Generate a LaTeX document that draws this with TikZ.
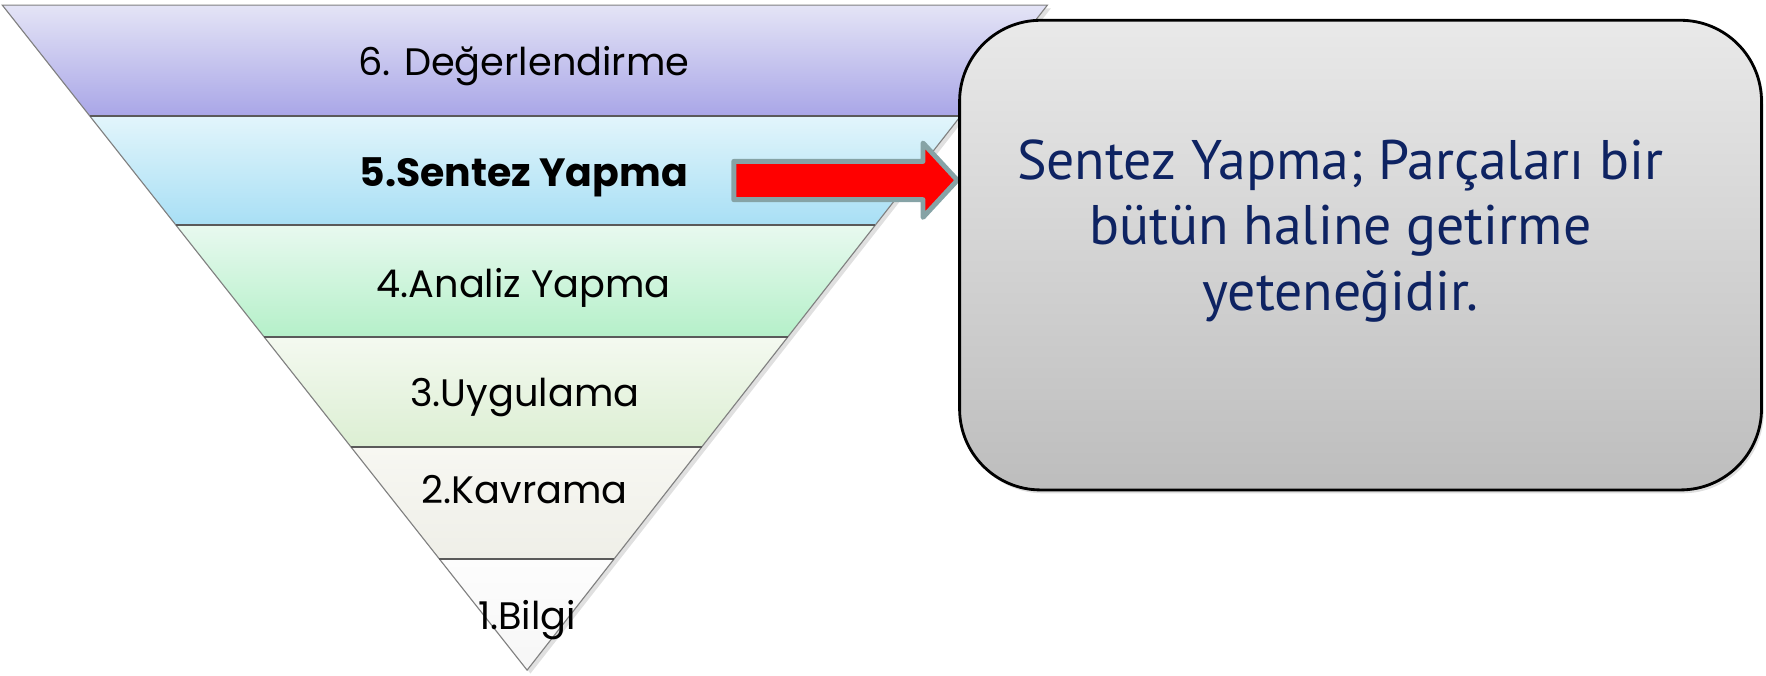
\documentclass[tikz,border=0pt]{standalone}
\usepackage{fontspec}
\setmainfont{PT Sans}
\newfontfamily\labelfont{Poppins}
\usetikzlibrary{calc,shadows}
\definecolor{bsixt}{HTML}{E4E4F6}
\definecolor{bsixb}{HTML}{A9A6E7}
\definecolor{bfivet}{HTML}{E2F5FB}
\definecolor{bfiveb}{HTML}{A8DFF5}
\definecolor{bfourt}{HTML}{E8F9EF}
\definecolor{bfourb}{HTML}{B5F0C9}
\definecolor{bthreet}{HTML}{F4F9F0}
\definecolor{bthreeb}{HTML}{DCEFD3}
\definecolor{btwot}{HTML}{F7F7F2}
\definecolor{btwob}{HTML}{EFEFE8}
\definecolor{bonet}{HTML}{FDFDFD}
\definecolor{boneb}{HTML}{F6F6F6}
\definecolor{sepline}{HTML}{5A5A5A}
\definecolor{edgeline}{HTML}{808080}
\definecolor{arrowedge}{HTML}{86A3A6}
\definecolor{boxtop}{HTML}{E9E9E9}
\definecolor{boxbot}{HTML}{BDBDBD}
\definecolor{navy}{RGB}{14,35,98}
\begin{document}
\begin{tikzpicture}[x=1pt,y=-1pt,
  lbl/.style={font=\labelfont\fontsize{34}{40}\selectfont, anchor=base, inner sep=0pt},
  lblbold/.style={font=\labelfont\bfseries\fontsize{35}{40}\selectfont, anchor=base, inner sep=0pt},
  sep/.style={draw=sepline, line width=1.6pt},
  edge/.style={draw=edgeline, line width=1pt},
  arrowst/.style={fill=red, draw=arrowedge, line width=4.4pt, line join=round},
  infobox/.style={draw=black, line width=2.5pt, rounded corners=72pt,
     top color=boxtop, bottom color=boxbot, minimum width=712pt, minimum height=417pt,
     drop shadow={opacity=0.25, shadow xshift=2pt, shadow yshift=-3pt}},
  boxtxt/.style={font=\fontsize{49.5}{58}\selectfont, text=navy, align=center, inner sep=0pt}
]
\useasboundingbox (0,0) rectangle (1568,600);
\coordinate (A) at (2,4.5);
\coordinate (B) at (930,4.5);
\coordinate (C) at (468,595);
\coordinate (L1) at ($(A)!0.1668!(C)$); \coordinate (R1) at ($(B)!0.1668!(C)$);
\coordinate (L2) at ($(A)!0.3311!(C)$); \coordinate (R2) at ($(B)!0.3311!(C)$);
\coordinate (L3) at ($(A)!0.4987!(C)$); \coordinate (R3) at ($(B)!0.4987!(C)$);
\coordinate (L4) at ($(A)!0.6647!(C)$); \coordinate (R4) at ($(B)!0.6647!(C)$);
\coordinate (L5) at ($(A)!0.8324!(C)$); \coordinate (R5) at ($(B)!0.8324!(C)$);
% shadow of triangle
\fill[black, opacity=0.12] ($(A)+(3,3)$) -- ($(B)+(3,3)$) -- ($(C)+(3,3)$) -- cycle;
% bands
\shade[top color=bsixt, bottom color=bsixb] (A) -- (B) -- (R1) -- (L1) -- cycle;
\shade[top color=bfivet, bottom color=bfiveb] (L1) -- (R1) -- (R2) -- (L2) -- cycle;
\shade[top color=bfourt, bottom color=bfourb] (L2) -- (R2) -- (R3) -- (L3) -- cycle;
\shade[top color=bthreet, bottom color=bthreeb] (L3) -- (R3) -- (R4) -- (L4) -- cycle;
\shade[top color=btwot, bottom color=btwob] (L4) -- (R4) -- (R5) -- (L5) -- cycle;
\shade[top color=bonet, bottom color=boneb] (L5) -- (R5) -- (C) -- cycle;
\draw[edge] (A) -- (B) -- (C) -- cycle;
\draw[sep] (L1) -- (R1);
\draw[sep] (L2) -- (R2);
\draw[sep] (L3) -- (R3);
\draw[sep] (L4) -- (R4);
\draw[sep] (L5) -- (R5);
% labels
\node[lbl] (l6) at (465,67) {6. Değerlendirme};
\node[lblbold] (l5) at (465,166) {5.Sentez Yapma};
\node[lbl] (l4) at (465,264) {4.Analiz Yapma};
\node[lbl] (l3) at (466,361) {3.Uygulama};
\node[lbl] (l2) at (466,447) {2.Kavrama};
\node[lbl] (l1) at (468,559) {1.Bilgi};
% arrow
\draw[arrowst] (651.5,143.3) -- (819.5,143.3) -- (819.5,127) -- (850,160)
   -- (819.5,193) -- (819.5,177.3) -- (651.5,177.3) -- cycle;
% info box
\node[infobox] (box) at (1208,226.5) {};
\node[boxtxt] (boxtext) at (1190,205) {Sentez Yapma; Parçaları bir\\bütün haline getirme\\yeteneğidir.};
\end{tikzpicture}
\end{document}
